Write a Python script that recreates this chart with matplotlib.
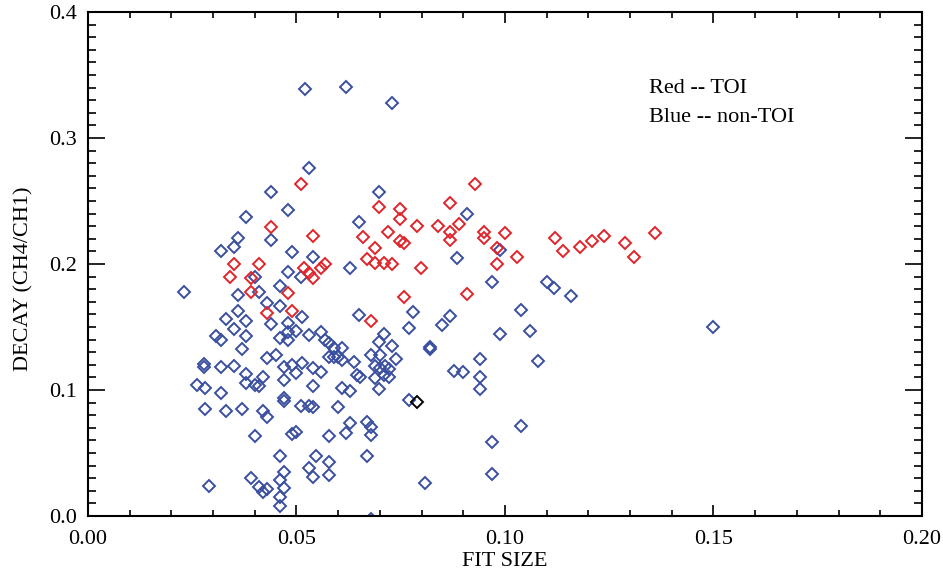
import numpy as np
import matplotlib
matplotlib.use("Agg")
import matplotlib.pyplot as plt
from matplotlib.ticker import MultipleLocator, FormatStrFormatter

# ----------------------------
# Dados
# ----------------------------
# non-TOI (azul)
fit_blue = [0.0521, 0.0619, 0.0729, 0.0530, 0.0440, 0.0699, 0.0480, 0.0380, 0.0650, 0.0909,
            0.0440, 0.0359, 0.0350, 0.0320, 0.0490, 0.0540, 0.0885, 0.0629, 0.0480, 0.0400,
            0.0510, 0.0230, 0.0460, 0.0410, 0.0359, 0.0429, 0.0460, 0.0359, 0.0331, 0.0380,
            0.0440, 0.0513, 0.0480, 0.0350, 0.0380, 0.0307, 0.0320, 0.0480, 0.0500, 0.0460,
            0.0480, 0.0529, 0.0370, 0.0429, 0.0450, 0.0279, 0.0279, 0.0320, 0.0350, 0.0470,
            0.0490, 0.0513, 0.0500, 0.0540, 0.0380, 0.0380, 0.0400, 0.0420, 0.0410, 0.0470,
            0.0261, 0.0281, 0.0320, 0.0470, 0.0540, 0.0280, 0.0331, 0.0370, 0.0420, 0.0429,
            0.0470, 0.0511, 0.0531, 0.0540, 0.0400, 0.0490, 0.0500, 0.0460, 0.0547, 0.0529,
            0.0540, 0.0470, 0.0460, 0.0390, 0.0410, 0.0420, 0.0429, 0.0470, 0.0291, 0.0460,
            0.0460, 0.0650, 0.0780, 0.0769, 0.0869, 0.0850, 0.0709, 0.0697, 0.0729, 0.0819,
            0.0819, 0.0559, 0.0569, 0.0579, 0.0589, 0.0609, 0.0599, 0.0609, 0.0589, 0.0577,
            0.0639, 0.0679, 0.0701, 0.0739, 0.0689, 0.0701, 0.0713, 0.0721, 0.0709, 0.0689,
            0.0721, 0.0645, 0.0653, 0.0559, 0.0878, 0.0899, 0.0609, 0.0629, 0.0699, 0.0769,
            0.0599, 0.0629, 0.0669, 0.0679, 0.0679, 0.0619, 0.0579, 0.0669, 0.0579, 0.0579,
            0.0809, 0.0679, 0.0969, 0.1100, 0.1118, 0.1159, 0.1039, 0.0989, 0.1059, 0.0940,
            0.1079, 0.0940, 0.0940, 0.1039, 0.0969, 0.0969, 0.1498, 0.0989]
decay_blue = [0.3387, 0.3407, 0.3280, 0.2760, 0.2569, 0.2574, 0.2431, 0.2371, 0.2331, 0.2394,
              0.2190, 0.2206, 0.2135, 0.2103, 0.2093, 0.2052, 0.2045, 0.1968, 0.1933, 0.1897,
              0.1894, 0.1780, 0.1825, 0.1780, 0.1754, 0.1688, 0.1667, 0.1625, 0.1563, 0.1550,
              0.1524, 0.1582, 0.1529, 0.1484, 0.1431, 0.1431, 0.1397, 0.1463, 0.1468, 0.1410,
              0.1397, 0.1437, 0.1325, 0.1252, 0.1278, 0.1204, 0.1185, 0.1185, 0.1193, 0.1185,
              0.1198, 0.1214, 0.1133, 0.1176, 0.1125, 0.1053, 0.1040, 0.1101, 0.1034, 0.1079,
              0.1040, 0.1013, 0.0974, 0.0934, 0.1033, 0.0849, 0.0836, 0.0849, 0.0836, 0.0788,
              0.0915, 0.0869, 0.0873, 0.0867, 0.0637, 0.0651, 0.0669, 0.0479, 0.0479, 0.0379,
              0.0307, 0.0347, 0.0286, 0.0299, 0.0233, 0.0193, 0.0212, 0.0220, 0.0238, 0.0153,
              0.0082, 0.1595, 0.1617, 0.1494, 0.1590, 0.1516, 0.1444, 0.1383, 0.1349, 0.1339,
              0.1329, 0.1463, 0.1397, 0.1371, 0.1331, 0.1331, 0.1264, 0.1238, 0.1264, 0.1264,
              0.1225, 0.1278, 0.1278, 0.1244, 0.1190, 0.1172, 0.1190, 0.1164, 0.1119, 0.1093,
              0.1106, 0.1119, 0.1106, 0.1145, 0.1152, 0.1145, 0.1012, 0.0988, 0.1008, 0.0921,
              0.0863, 0.0740, 0.0748, 0.0704, 0.0643, 0.0656, 0.0637, 0.0479, 0.0431, 0.0325,
              0.0260, -0.0020, 0.1860, 0.1853, 0.1810, 0.1746, 0.1635, 0.1444, 0.1468, 0.1246,
              0.1230, 0.1106, 0.1006, 0.0717, 0.0585, 0.0331, 0.1500, 0.2111]

# TOI (vermelho)
fit_red = [0.0510, 0.0699, 0.0749, 0.0749, 0.0869, 0.0929, 0.0540, 0.0660, 0.0719, 0.0789,
           0.0839, 0.0889, 0.0869, 0.0869, 0.0749, 0.0759, 0.0689, 0.0669, 0.0689, 0.0709,
           0.0729, 0.0799, 0.0440, 0.0350, 0.0411, 0.0519, 0.0529, 0.0540, 0.0559, 0.0569,
           0.0340, 0.0390, 0.0390, 0.0480, 0.0429, 0.0490, 0.0759, 0.0679, 0.0949, 0.0949,
           0.0999, 0.0981, 0.1029, 0.0980, 0.1119, 0.1139, 0.1179, 0.1208, 0.1238, 0.1288,
           0.1309, 0.1359, 0.0909]
decay_red = [0.2631, 0.2455, 0.2434, 0.2357, 0.2482, 0.2633, 0.2222, 0.2217, 0.2252, 0.2304,
             0.2304, 0.2315, 0.2250, 0.2190, 0.2185, 0.2169, 0.2125, 0.2036, 0.2008, 0.2008,
             0.2000, 0.1966, 0.2291, 0.2002, 0.2002, 0.1972, 0.1926, 0.1890, 0.1966, 0.2000,
             0.1894, 0.1885, 0.1780, 0.1767, 0.1613, 0.1625, 0.1736, 0.1548, 0.2256, 0.2204,
             0.2244, 0.2125, 0.2053, 0.2002, 0.2204, 0.2103, 0.2133, 0.2185, 0.2222, 0.2164,
             0.2053, 0.2244, 0.1762]

# ponto destacado (preto)
fit_black = [0.0789]
decay_black = [0.0902]

azul = '#3a4fa0'
vermelho = '#e0252a'

plt.rcParams['font.family'] = ['Liberation Serif', 'DejaVu Serif']

fig = plt.figure(figsize=(9.43, 5.78), dpi=100)
ax = fig.add_axes([0.0933, 0.1073, 0.8844, 0.8720])

kw = dict(linestyle='none', marker='D', mfc='none', ms=5.8, mew=1.4, clip_on=True)
ax.plot(fit_blue, decay_blue, mec=azul, **kw)
ax.plot(fit_red, decay_red, mec=vermelho, **kw)
ax.plot(fit_black, decay_black, mec='black', **kw)

ax.set_xlim(0.0, 0.2)
ax.set_ylim(0.0, 0.4)

ax.xaxis.set_major_locator(MultipleLocator(0.05))
ax.xaxis.set_minor_locator(MultipleLocator(0.01))
ax.yaxis.set_major_locator(MultipleLocator(0.1))
ax.yaxis.set_minor_locator(MultipleLocator(0.01))
ax.xaxis.set_major_formatter(FormatStrFormatter('%.2f'))
ax.yaxis.set_major_formatter(FormatStrFormatter('%.1f'))

ax.tick_params(axis='both', which='both', direction='in', top=True, right=True,
               labelsize=16, width=1.2, color='black')
ax.tick_params(axis='x', which='major', length=8, pad=10)
ax.tick_params(axis='x', which='minor', length=4.3)
ax.tick_params(axis='y', which='major', length=12.2, pad=8)
ax.tick_params(axis='y', which='minor', length=6.1)
for s in ax.spines.values():
    s.set_linewidth(1.5)

ax.set_xlabel('FIT SIZE', fontsize=16, labelpad=2)
ax.set_ylabel('DECAY (CH4/CH1)', fontsize=16, labelpad=8)
ax.yaxis.set_label_coords(-0.065, 0.47)

ax.text(0.1345, 0.3355, 'Red -- TOI', fontsize=16, va='baseline')
ax.text(0.1345, 0.3129, 'Blue -- non-TOI', fontsize=16, va='baseline')

fig.savefig('out.png', dpi=100)
